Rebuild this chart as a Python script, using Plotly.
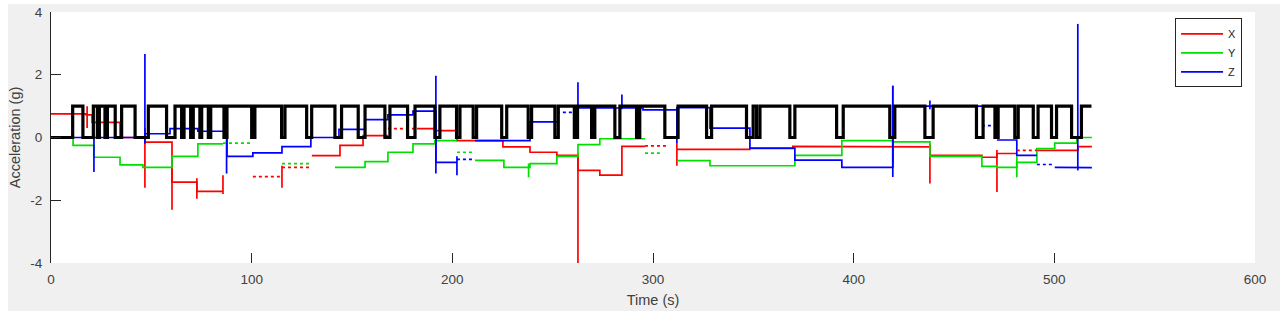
import plotly.graph_objects as go

# ---------------- data ----------------
# black square wave: (on, off) times in seconds, value 1 while on, 0 otherwise
SQ_ON = [10.8, 21.1, 24.1, 28.1, 35.2, 48.5, 61.8, 66.3, 70.9, 75.1, 79.6, 87.7, 101.6,
         116.6, 129.9, 144.8, 156.5, 168.9, 181.4, 193.8, 203.8, 212.1, 227.1, 239.5,
         252.8, 262.4, 271.0, 283.5, 293.4, 312.5, 329.2, 349.9, 353.3, 370.7, 394.8,
         420.5, 439.6, 464.5, 472.0, 482.0, 491.9, 501.1, 513.5]
SQ_OFF = [15.9, 23.1, 26.9, 32.0, 41.9, 57.6, 65.1, 69.6, 74.2, 78.4, 86.2, 100.0, 114.9,
          127.4, 141.5, 153.1, 166.4, 177.7, 191.3, 202.1, 210.4, 224.6, 237.8, 251.1,
          260.8, 269.4, 281.0, 291.8, 305.9, 326.7, 346.6, 351.6, 368.2, 391.5, 418.0,
          435.5, 461.2, 470.4, 480.3, 489.5, 498.6, 508.6, 518.5]

# X (red): segment breakpoints and levels (None = no data)
X_T = [0, 17.5, 20.5, 34.4, 46.8, 60.3, 72.7, 85.7, 100.6, 115.1, 130.0, 144.0, 155.5,
       167.9, 182.4, 191.3, 202.3, 225.2, 238.7, 252.1, 262.6, 273.5, 284.5, 296.0, 306.9,
       311.9, 348.3, 369.7, 419.5, 438.0, 463.9, 471.4, 481.3, 491.3, 511.7, 518.7]
X_V = [0.75, 0.72, 0.48, 0.0, -0.15, -1.42, -1.72, None, -1.25, -0.95, -0.58, -0.25, 0.06,
       0.28, 0.28, 0.22, -0.1, -0.3, -0.47, -0.57, -1.05, -1.2, -0.28, -0.27, None,
       -0.38, -0.35, -0.28, -0.3, -0.57, -0.63, -0.51, -0.41, -0.41, -0.29]
X_SPARSE = [8, 9, 13, 23, 32]
X_SPK_T = [18.0, 46.8, 60.3, 72.7, 85.7, 115.1, 262.6, 311.9, 419.5, 438.0, 471.4]
X_SPK_LO = [0.3, -1.6, -2.3, -1.95, -1.8, -1.6, -4.0, -0.9, -0.8, -1.47, -1.74]
X_SPK_HI = [1.0, 0.3, -0.9, -1.3, -1.2, -0.9, -0.5, -0.2, 1.65, -0.2, -0.4]

# Y (green)
Y_T = [0, 11.0, 21.4, 34.4, 45.8, 60.3, 73.2, 85.7, 100.6, 115.1, 130.0, 141.5, 156.5,
       167.9, 180.4, 191.3, 202.3, 211.3, 225.7, 238.7, 252.1, 262.6, 273.5, 296.0, 303.4,
       311.9, 328.4, 370.7, 394.1, 419.5, 438.0, 463.9, 471.4, 481.3, 491.3, 500.2, 511.2,
       518.7]
Y_V = [0.0, -0.25, -0.63, -0.87, -0.95, -0.6, -0.2, -0.18, None, -0.83, None, -0.95, -0.77,
       -0.47, -0.2, -0.1, -0.47, -0.73, -0.95, -0.83, -0.6, -0.23, -0.04, -0.5, None,
       -0.74, -0.9, -0.57, -0.1, -0.14, -0.6, -0.92, -0.95, -0.79, -0.35, -0.18, 0.0]
Y_SPARSE = [7, 9, 16, 23]
Y_SPK_T = [238.0, 481.3]
Y_SPK_LO = [-1.27, -1.27]
Y_SPK_HI = [-0.83, -0.6]

# Z (blue)
Z_T = [0, 46.8, 59.3, 73.2, 87.7, 100.6, 115.1, 129.5, 143.5, 156.5, 167.9, 180.4, 191.8,
       202.3, 211.3, 238.7, 252.1, 262.6, 295.0, 311.9, 328.4, 348.3, 370.7, 394.1, 419.5,
       463.9, 471.4, 481.3, 491.3, 500.2, 511.7, 518.7]
Z_V = [0.0, 0.12, 0.28, 0.2, -0.6, -0.49, -0.29, 0.0, 0.26, 0.57, 0.72, 0.84, -0.79,
       -0.7, -0.1, 0.5, 0.8, 0.94, 0.88, 0.95, 0.3, -0.34, -0.72, -0.95, 1.0, 0.38, -0.08,
       -0.57, -0.86, -0.95, -0.96]
Z_SPARSE = [13, 16, 25, 28]
Z_SPK_T = [21.4, 46.8, 87.5, 191.8, 202.3, 262.6, 284.5, 311.9, 419.5, 438.0, 511.7]
Z_SPK_LO = [-1.1, -0.2, -1.15, -1.15, -1.2, 0.5, 0.9, -0.2, -1.26, 0.9, -1.05]
Z_SPK_HI = [0.1, 2.66, 0.76, 1.97, -0.6, 1.76, 1.37, 0.9, 1.65, 1.18, 3.62]

X_TICKS = [0, 100, 200, 300, 400, 500, 600]
Y_TICKS = [-4, -2, 0, 2, 4]
Y_TICKTEXT = ["-4", "-2", "0", "2", "4"]


def build(T, V, sparse, spk_t, spk_lo, spk_hi):
    sx, sy, dx, dy = [], [], [], []
    prev_solid = False
    for i, v in enumerate(V):
        if v is None:
            prev_solid = False
            continue
        if i in sparse:
            dx += [T[i], T[i + 1], None]
            dy += [v, v, None]
            prev_solid = False
            continue
        if not prev_solid:
            sx.append(None)
            sy.append(None)
        sx += [T[i], T[i + 1]]
        sy += [v, v]
        prev_solid = True
    for t, lo, hi in zip(spk_t, spk_lo, spk_hi):
        sx += [None, t, t]
        sy += [None, lo, hi]
    return sx, sy, dx, dy


FONT = "Liberation Sans, Arial, Helvetica, sans-serif"
TXT = "#404040"
fig = go.Figure()

series = [("X", "#ff0000", X_T, X_V, X_SPARSE, X_SPK_T, X_SPK_LO, X_SPK_HI),
          ("Y", "#00e000", Y_T, Y_V, Y_SPARSE, Y_SPK_T, Y_SPK_LO, Y_SPK_HI),
          ("Z", "#0000ff", Z_T, Z_V, Z_SPARSE, Z_SPK_T, Z_SPK_LO, Z_SPK_HI)]

for name, col, T, V, sp, st, slo, shi in series:
    sx, sy, dx, dy = build(T, V, sp, st, slo, shi)
    fig.add_trace(go.Scatter(x=sx, y=sy, mode="lines", name=name,
                             line=dict(color=col, width=1.7), connectgaps=False))
for name, col, T, V, sp, st, slo, shi in series:
    sx, sy, dx, dy = build(T, V, sp, st, slo, shi)
    fig.add_trace(go.Scatter(x=dx, y=dy, mode="lines", showlegend=False,
                             line=dict(color=col, width=1.7, dash="dot")))

# square wave
wx, wy = [0.0], [0.0]
for on, off in zip(SQ_ON, SQ_OFF):
    wx += [on, off]
    wy += [1, 0]
wy[-1] = 1
fig.add_trace(go.Scatter(x=wx, y=wy, mode="lines", line_shape="hv", showlegend=False,
                         line=dict(color="black", width=3.2)))

white_strip = dict(type="rect", xref="paper", yref="paper", fillcolor="white",
                   line=dict(width=0), layer="below")
fig.update_layout(
    width=1284, height=311,
    margin=dict(l=51, r=29, t=12, b=48, autoexpand=False),
    paper_bgcolor="#f0f0f0", plot_bgcolor="white",
    font=dict(family=FONT, size=13.5, color=TXT),
    showlegend=True,
    legend=dict(x=0.9336, y=0.975, xanchor="left", yanchor="top",
                bgcolor="white", bordercolor="#262626", borderwidth=1,
                font=dict(family=FONT, size=11, color="#262626"),
                itemwidth=42, tracegroupgap=0),
    shapes=[
        dict(white_strip, x0=-0.05, x1=-0.0357, y0=-0.3, y1=1.1),
        dict(white_strip, x0=-0.05, x1=1.05, y0=1.0319, y1=1.1),
        dict(white_strip, x0=1.0208, x1=1.05, y0=-0.3, y1=1.1),
    ],
)
fig.update_xaxes(range=[0, 600], tickvals=X_TICKS, ticks="inside", ticklen=10,
                 tickcolor="#262626", showgrid=False, zeroline=False,
                 showline=False, ticklabelstandoff=6, automargin=False,
                 tickfont=dict(size=13.5, color=TXT),
                 title=dict(text="Time (s)", font=dict(size=14.5, color=TXT), standoff=9))
fig.update_yaxes(range=[-4, 4], tickvals=Y_TICKS, ticktext=Y_TICKTEXT, ticks="inside",
                 ticklen=10, tickcolor="#262626", showgrid=False, zeroline=False,
                 showline=True, linecolor="#262626", linewidth=1, ticklabelstandoff=5,
                 automargin=False,
                 tickfont=dict(size=13.5, color=TXT),
                 title=dict(text="Acceleration (g)", font=dict(size=14.5, color=TXT), standoff=6))

fig.write_html("out.html")
